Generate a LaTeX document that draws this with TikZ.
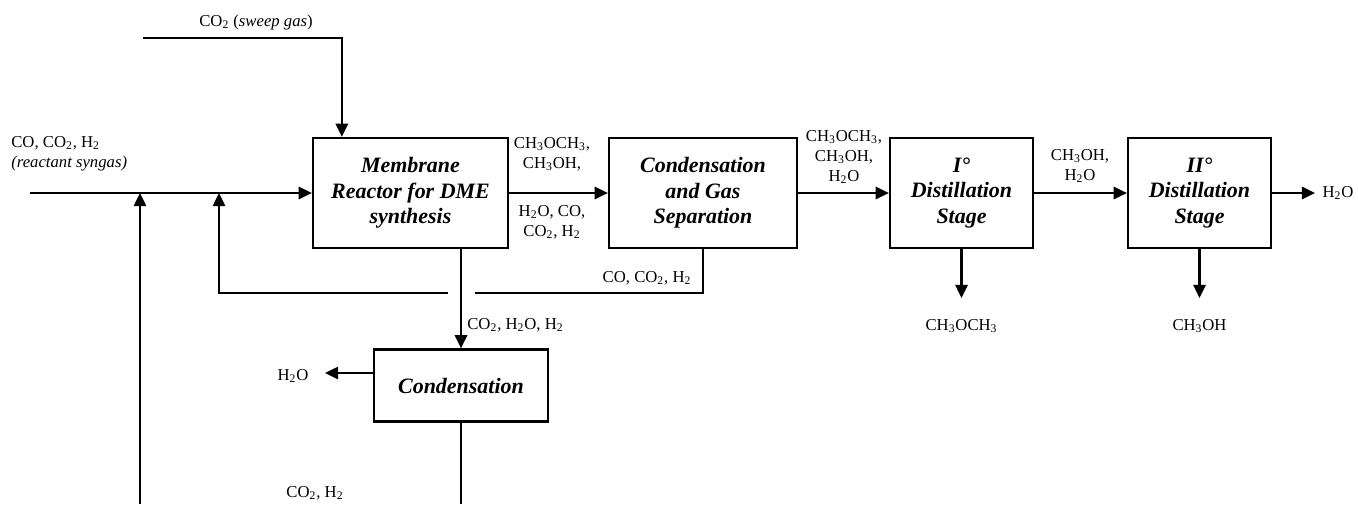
\documentclass[tikz,border=0pt]{standalone}
\usepackage{fontspec}
\setmainfont{Liberation Serif}
\usetikzlibrary{arrows.meta}

\begin{document}
\begin{tikzpicture}[x=0.02cm, y=-0.02cm]

\tikzstyle{unit}=[rectangle, draw, line width=1.3pt, align=center, inner sep=0pt, font=\fontsize{12.5}{14.5}\selectfont\bfseries\itshape]
\tikzstyle{stream}=[align=center, inner sep=0pt, font=\fontsize{9.5}{11.5}\selectfont]
\tikzstyle{pipe}=[line width=1.2pt]
\tikzstyle{arrow}=[pipe, -{Triangle[length=7.5pt,width=7pt]}]

\useasboundingbox (0,0) rectangle (1358,504);

% process units
\node (R) [unit, minimum width=3.9cm, minimum height=2.2cm] at (410.5,193)
      {Membrane\\ Reactor for DME\\ synthesis};
\node (G) [unit, minimum width=3.76cm, minimum height=2.2cm] at (703,193)
      {Condensation\\ and Gas\\ Separation};
\node (D1) [unit, minimum width=2.86cm, minimum height=2.2cm] at (961.5,193)
      {I\textdegree\\ Distillation\\ Stage};
\node (D2) [unit, minimum width=2.86cm, minimum height=2.2cm] at (1199.5,193)
      {II\textdegree\\ Distillation\\ Stage};
\node (C) [unit, minimum width=3.48cm, minimum height=1.44cm] at (461,385.5)
      {Condensation};

% free ends of the streams
\coordinate (feed) at (30,193);
\coordinate (sweep) at (143,38);
\coordinate (mixA) at (140,193);
\coordinate (mixB) at (219,193);
\coordinate (recy) at (219,293);
\coordinate (back) at (140,504);
\coordinate (down) at (461,504);
\coordinate (dme) at (961.5,298);
\coordinate (meoh) at (1199.5,298);
\coordinate (wout) at (1315,193);
\coordinate (wcond) at (325,373);

% stream labels
\node (l1) [stream, align=left, anchor=west] at (11,154) {CO, CO\textsubscript{2}, H\textsubscript{2}\\ \textit{(reactant syngas)}};
\node (l2) [stream] at (256,22) {CO\textsubscript{2} (\textit{sweep gas})};
\node (l3) [stream] at (552,154) {CH\textsubscript{3}OCH\textsubscript{3},\\ CH\textsubscript{3}OH,};
\node (l4) [stream] at (552,222) {H\textsubscript{2}O, CO,\\ CO\textsubscript{2}, H\textsubscript{2}};
\node (l5) [stream] at (844,157) {CH\textsubscript{3}OCH\textsubscript{3},\\ CH\textsubscript{3}OH,\\ H\textsubscript{2}O};
\node (l6) [stream] at (1080,166) {CH\textsubscript{3}OH,\\ H\textsubscript{2}O};
\node (l7) [stream] at (1338,193) {H\textsubscript{2}O};
\node (l8) [stream] at (961.5,326) {CH\textsubscript{3}OCH\textsubscript{3}};
\node (l9) [stream] at (1199.5,326) {CH\textsubscript{3}OH};
\node (l10) [stream] at (647,278) {CO, CO\textsubscript{2}, H\textsubscript{2}};
\node (l11) [stream, anchor=west] at (467,325) {CO\textsubscript{2}, H\textsubscript{2}O, H\textsubscript{2}};
\node (l12) [stream] at (293,376) {H\textsubscript{2}O};
\node (l13) [stream] at (315,493) {CO\textsubscript{2}, H\textsubscript{2}};

% connectors
\draw [arrow] (feed) -- (R);
\draw [arrow] (sweep) -| ([xshift=0.6cm]R.north west);
\draw [arrow] (R) -- (G);
\draw [arrow] (G) -- (D1);
\draw [arrow] (D1) -- (D2);
\draw [arrow] (D2) -- (wout);
\draw [arrow] (D1) -- (dme);
\draw [arrow] (D2) -- (meoh);
\draw [arrow] (G.south) |- (recy) -- (mixB);
\draw [draw=white, line width=4pt] (448,293) -- (475,293);
\draw [arrow] (C.north |- R.south) -- (C.north);
\draw [arrow] (C.west |- wcond) -- (wcond);
\draw [pipe] (C.south) -- (down);
\draw [arrow] (back) -- (mixA);

\end{tikzpicture}
\end{document}
